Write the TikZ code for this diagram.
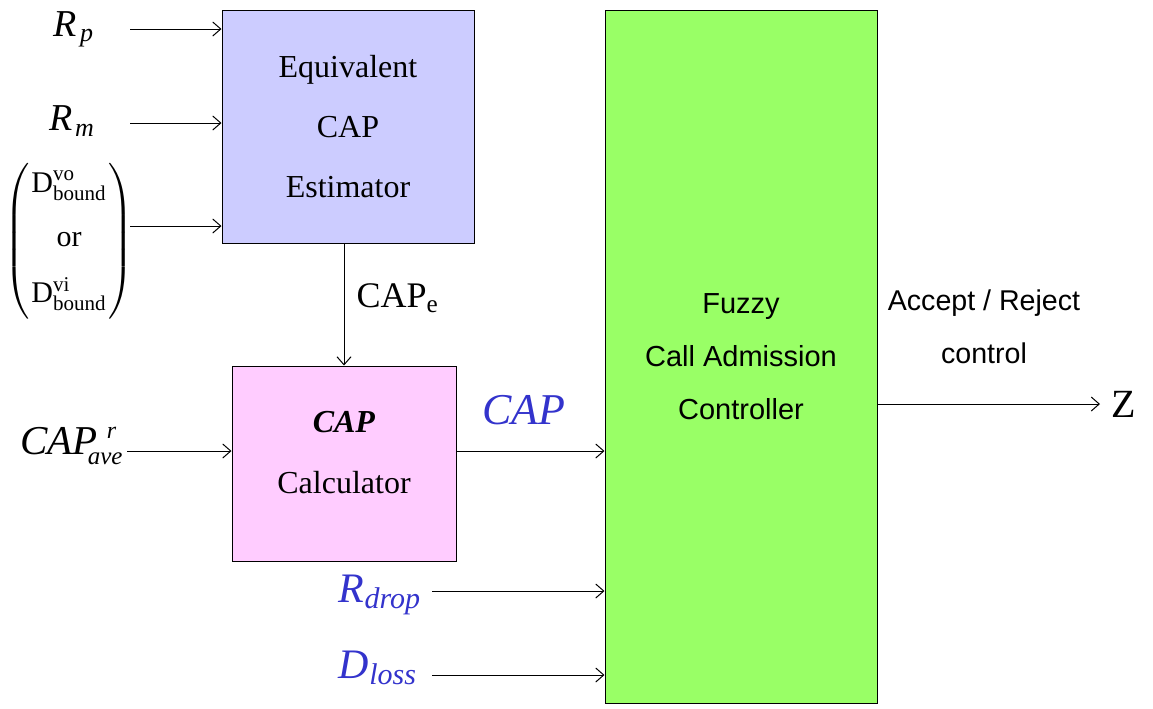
\documentclass[tikz,border=0pt]{standalone}
\usepackage{fontspec}
\usepackage{amsmath}
\setmainfont{Liberation Serif}
\setsansfont{Liberation Sans}
\usetikzlibrary{
  arrows.meta,
  positioning
}
\definecolor{estfill}{HTML}{CCCCFF}
\definecolor{calcfill}{HTML}{FFCCFF}
\definecolor{fuzzfill}{HTML}{99FF66}
\definecolor{capblue}{HTML}{3333CC}
\newcommand{\subtxt}[2]{\mbox{\fontsize{#1}{#1}\selectfont\textit{#2}}}

\begin{document}
\begin{tikzpicture}[
  x=0.5pt, y=-0.5pt,
  block/.style={
    draw=black, line width=0.5pt,
    inner sep=0pt, align=center
  },
  sig/.style={line width=0.5pt, -{Straight Barb[length=4pt, width=7pt]}},
  inlabel/.style={font=\fontsize{19}{22}\selectfont, inner sep=0pt},
  biglabel/.style={font=\fontsize{21}{24}\selectfont, inner sep=0pt, text=capblue}
]
\useasboundingbox (0,0) rectangle (1153,708);

% blocks
\node[block, fill=estfill, minimum width=126pt, minimum height=116.5pt,
      font=\fontsize{16}{30}\selectfont] (est) at (348, 126.5)
  {Equivalent\\CAP\\Estimator};
\node[block, fill=calcfill, minimum width=112pt, minimum height=97.5pt,
      font=\fontsize{16}{30.5}\selectfont] (calc) at (344, 463.5)
  {\textbf{\textit{CAP}}\\Calculator\\[-19.5pt]};
\node[block, fill=fuzzfill, minimum width=136pt, minimum height=346.5pt,
      font=\sffamily\fontsize{14.5}{26.5}\selectfont] (fuzzy) at (741, 356.5)
  {Fuzzy\\Call Admission\\Controller};

% inputs of the estimator
\node[inlabel] (rp) at (74, 29) {$\textit{R}_{\kern1.5pt\subtxt{13}{p}}$};
\node[inlabel] (rm) at (72, 121) {$\textit{R}_{\kern1.5pt\subtxt{13}{m}}$};
\node[inlabel, font=\fontsize{15}{16}\selectfont] (dbound) at (69, 241)
  {$\left(\vcenter{\hbox{\rule{0pt}{76pt}}}
    \begin{tabular}{@{\hspace{1pt}}c@{\hspace{1pt}}}
    $\text{D}^{\subtxt{10.5}{\upshape vo}}_{\subtxt{10.5}{\upshape bound}}$\\[11pt]
    or\\[11pt]
    $\text{D}^{\subtxt{10.5}{\upshape vi}}_{\subtxt{10.5}{\upshape bound}}$
  \end{tabular}\right)$};

\coordinate (rpin) at (130, 29);
\coordinate (rmin) at (130, 123);
\coordinate (dbin) at (130, 226);
\draw[sig] (rpin) -- (rpin -| est.west);
\draw[sig] (rmin) -- (rmin -| est.west);
\draw[sig] (dbin) -- (dbin -| est.west);

% estimator to calculator
\draw[sig] (est.south -| calc.north) -- node[right=6pt, pos=0.45, inlabel,
  font=\fontsize{18}{20}\selectfont] (cape) {CAP\textsubscript{e}} (calc.north);

% calculator
\node[inlabel, font=\fontsize{20.5}{22}\selectfont] (capave) at (72, 446)
  {$\textit{CAP}^{\kern4.5pt\subtxt{12}{r}}_{\kern-5pt\subtxt{12.5}{ave}}$};
\coordinate (avein) at (127, 451);
\draw[sig] (avein) -- (avein -| calc.west);

\coordinate (capout) at (456, 451);
\draw[sig] (capout) -- (capout -| fuzzy.west);
\node[biglabel, font=\fontsize{22}{24}\selectfont] (caplbl) at (524, 410) {\textit{CAP}};

% other controller inputs
\node[biglabel] (rdrop) at (380, 595) {$\textit{R}_{\subtxt{15}{drop}}$};
\node[biglabel] (dloss) at (378, 668) {$\textit{D}_{\subtxt{15}{loss}}$};
\coordinate (rdin) at (432, 591);
\coordinate (dlin) at (432, 675);
\draw[sig] (rdin) -- (rdin -| fuzzy.west);
\draw[sig] (dlin) -- (dlin -| fuzzy.west);

% output
\coordinate (zout) at (1100, 404);
\node[inlabel, font=\fontsize{20}{22}\selectfont] (z) at (1124, 404) {Z};
\draw[sig] (zout -| fuzzy.east) -- (zout);
\node[align=center, inner sep=0pt, font=\sffamily\fontsize{14.3}{26.5}\selectfont]
  (decision) at (984, 326.5) {Accept / Reject\\control};

\end{tikzpicture}
\end{document}
